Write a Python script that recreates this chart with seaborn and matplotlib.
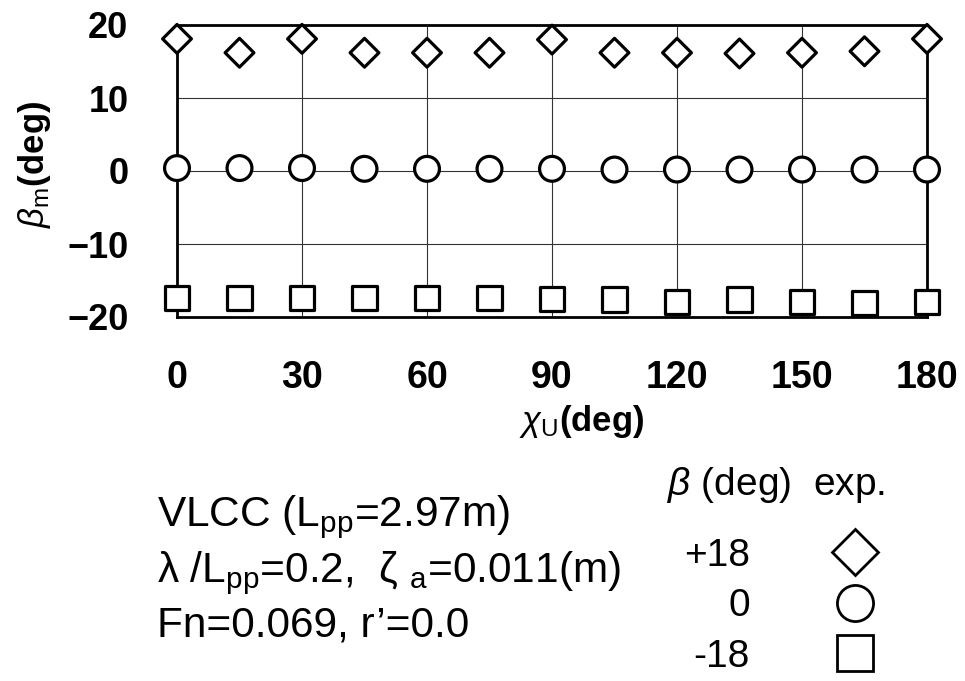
import matplotlib
matplotlib.use("Agg")
import matplotlib.pyplot as plt
import seaborn as sns
import pandas as pd
from matplotlib.lines import Line2D

# ---- data ----
chi_u = [0, 15, 30, 45, 60, 75, 90, 105, 120, 135, 150, 165, 180]
beta_p18 = [18.1, 16.2, 18.1, 16.2, 16.2, 16.2, 18.0, 16.2, 16.2, 16.1, 16.2, 16.4, 18.1]
beta_0 = [0.4, 0.4, 0.4, 0.3, 0.3, 0.3, 0.3, 0.2, 0.2, 0.2, 0.2, 0.2, 0.2]
beta_m18 = [-17.4, -17.4, -17.4, -17.4, -17.4, -17.4, -17.5, -17.6, -18.0, -17.6, -18.0, -18.1, -18.0]
beta_levels = ["+18", "0", "-18"]
x_ticks = [0, 30, 60, 90, 120, 150, 180]
y_ticks = [-20, -10, 0, 10, 20]

sns.set_style("white")
REG = ["Liberation Sans", "DejaVu Sans"]
plt.rcParams["font.family"] = REG
plt.rcParams["font.weight"] = "normal"
plt.rcParams["text.color"] = "black"
plt.rcParams["axes.labelcolor"] = "black"
plt.rcParams["xtick.color"] = "black"
plt.rcParams["ytick.color"] = "black"
plt.rcParams["mathtext.fontset"] = "custom"
plt.rcParams["mathtext.rm"] = "Liberation Sans:normal"
plt.rcParams["mathtext.it"] = "Liberation Sans:italic:normal"
plt.rcParams["mathtext.bf"] = "Liberation Sans:bold"
plt.rcParams["axes.unicode_minus"] = True

df = pd.DataFrame({
    "chi_u": chi_u * 3,
    "beta_m": beta_p18 + beta_0 + beta_m18,
    "case": [beta_levels[0]] * len(chi_u) + [beta_levels[1]] * len(chi_u) + [beta_levels[2]] * len(chi_u),
})

fig = plt.figure(figsize=(9.65, 6.81), dpi=100)
ax = fig.add_axes([177 / 965, 1 - 317 / 681, 750 / 965, 292 / 681])

markers = {"+18": "D", "0": "o", "-18": "s"}
sizes = {"+18": 215, "0": 320, "-18": 300}
sns.scatterplot(data=df, x="chi_u", y="beta_m", style="case", size="case",
                markers=markers, sizes=sizes, style_order=beta_levels, size_order=beta_levels,
                color="white", edgecolor="black", linewidth=2.3, legend=False,
                ax=ax, zorder=5, clip_on=False)

ax.set_xlim(0, 180)
ax.set_ylim(-20, 20)
ax.set_xticks(x_ticks)
ax.set_yticks(y_ticks)
ax.grid(True, color="#333333", lw=0.8)
ax.set_axisbelow(True)
for sp in ax.spines.values():
    sp.set_linewidth(2.0)
    sp.set_color("black")
ax.tick_params(axis="x", length=0, pad=31, labelsize=27)
ax.tick_params(axis="y", length=0, pad=35, labelsize=26)
for lab in ax.get_xticklabels() + ax.get_yticklabels():
    lab.set_fontweight("bold")

ax.set_xlabel(r"$\chi_{\mathrm{U}}\mathbf{(deg)}$", fontsize=25)
ax.xaxis.set_label_coords(0.54, -0.295)
ax.set_ylabel(r"$\beta_{\mathrm{m}}\mathbf{(deg)}$", fontsize=25)
ax.yaxis.set_label_coords(-0.165, 0.524)

# condition text block
fig.text(157 / 965, 1 - 526 / 681, r"VLCC (L$_{\mathrm{pp}}$=2.97m)",
         fontsize=30.5, va="baseline")
fig.text(157 / 965, 1 - 582 / 681, r"λ /L$_{\mathrm{pp}}$=0.2,  ζ $_{\mathrm{a}}$=0.011(m)",
         fontsize=30.5, va="baseline")
fig.text(157 / 965, 1 - 637 / 681, "Fn=0.069, r\u2019=0.0",
         fontsize=30.5, va="baseline")

# legend
fig.text(667 / 965, 1 - 495 / 681, r"$\beta$ (deg)  exp.", fontsize=28, va="baseline")
handles = [
    Line2D([], [], ls="none", marker="D", ms=23, mfc="white", mec="black", mew=2.0),
    Line2D([], [], ls="none", marker="o", ms=26, mfc="white", mec="black", mew=2.0),
    Line2D([], [], ls="none", marker="s", ms=26, mfc="white", mec="black", mew=2.0),
]
leg = fig.legend(handles, beta_levels, loc="upper right", bbox_to_anchor=(884 / 965, 1 - 538 / 681),
                 frameon=False, markerfirst=False, handlelength=1.5, handletextpad=1.95,
                 labelspacing=0.37, borderpad=0, borderaxespad=0,
                 prop={"family": REG, "size": 28, "weight": "normal"})

fig.savefig("out.png", dpi=100, facecolor="white")
